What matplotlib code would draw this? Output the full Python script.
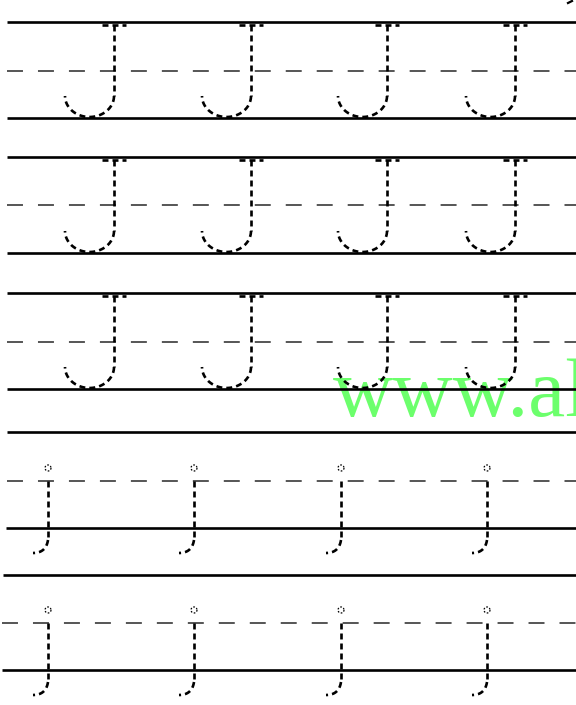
import numpy as np
import matplotlib.pyplot as plt

plt.rcParams['lines.scale_dashes'] = False

# guide lines of each writing row (pixel rows, top = 0)
solid_y = [22, 118, 157, 253, 293, 389, 432, 528, 575, 670]
solid_x0 = [7, 7, 7, 7, 7, 7, 7, 6, 3, 2]
dashed_y = [71, 205, 342, 481, 623]
dashed_x0 = [7, 7, 7, 7, 2]

# capital J rows: (top line, bottom line), stems
J_rows = [(22, 118), (157, 253), (293, 389)]
J_x = [114, 251, 387, 515]

# small j rows: (dashed line, solid line), stems
j_rows = [(481, 528), (623, 670)]
j_x = [48, 194, 341, 487]

W, H = 576, 705
fig = plt.figure(figsize=(W / 100, H / 100), dpi=100)
ax = fig.add_axes([0, 0, 1, 1])
ax.set_xlim(0, W)
ax.set_ylim(H, 0)
ax.axis('off')

# watermark
ax.text(333, 416, 'www.al', fontsize=60, family='Liberation Serif',
        color='#6cff6c', zorder=0)

for y, x0 in zip(solid_y, solid_x0):
    ax.plot([x0, W], [y, y], color='black', lw=1.9, solid_capstyle='butt', zorder=2)

for y, x0 in zip(dashed_y, dashed_x0):
    ax.plot([x0, W], [y, y], color='#555555', lw=1.4, dashes=(11.5, 10.8), zorder=2)

dash = dict(color='black', lw=1.9, dashes=(4.3, 2.9), zorder=3)

for top, bot in J_rows:
    for sx in J_x:
        # serif
        ax.plot([sx - 12, sx + 12], [top + 3, top + 3], **dash)
        # stem
        ax.plot([sx, sx], [top + 3, bot - 22], **dash)
        # hook
        t = np.linspace(0, np.pi, 40)
        cx, cy = sx - 24.5, bot - 22
        ax.plot(cx + 24.5 * np.cos(t), cy + 21 * np.sin(t), **dash)

for mid, base in j_rows:
    for sx in j_x:
        # dot
        t = np.linspace(0, 2 * np.pi, 30)
        ax.plot(sx + 3 * np.cos(t), mid - 13 + 3 * np.sin(t), color='black', lw=0.9,
                dashes=(1.2, 1.2), zorder=3)
        # stem
        ax.plot([sx, sx], [mid, base + 12], **dash)
        # hook
        t = np.linspace(0, 1, 20)
        hx = (1 - t) ** 2 * sx + 2 * t * (1 - t) * (sx - 2) + t ** 2 * (sx - 15)
        hy = (1 - t) ** 2 * (base + 12) + 2 * t * (1 - t) * (base + 25) + t ** 2 * (base + 25)
        ax.plot(hx, hy, **dash)

# cut-off mark at the top right corner
ax.plot([568, 572], [3, 1], color='black', lw=1.6)

fig.savefig('out.png', dpi=100, facecolor='white')
